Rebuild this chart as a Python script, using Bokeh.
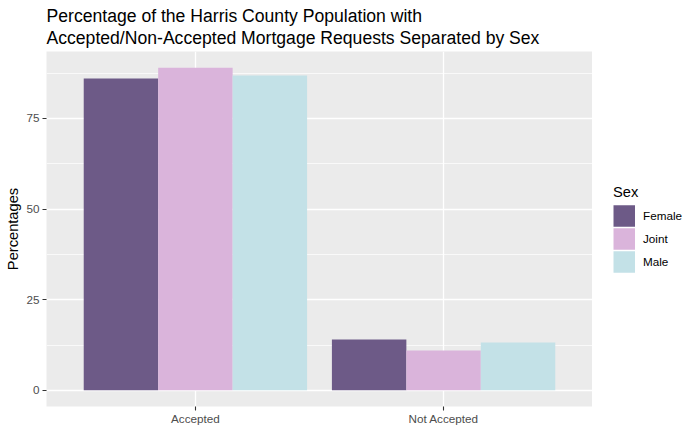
from bokeh.plotting import figure
from bokeh.layouts import row
from bokeh.models import (FactorRange, Range1d, FixedTicker, Legend, LegendItem,
                          ColumnDataSource)
from bokeh.transform import dodge
from bokeh.embed import file_html
from bokeh.resources import INLINE

categories = ["Accepted", "Not Accepted"]
sexes = ["Female", "Joint", "Male"]
female = [86.0, 14.0]
joint = [89.0, 11.0]
male = [86.8, 13.2]
colors = ["#6D5A87", "#DAB4DB", "#C3E1E7"]
y_ticks = [0, 25, 50, 75]
y_minor = [12.5, 37.5, 62.5, 87.5]

title1 = "Percentage of the Harris County Population with"
title2 = "Accepted/Non-Accepted Mortgage Requests Separated by Sex"

FONT = "Liberation Sans"

source = ColumnDataSource(dict(cat=categories, Female=female, Joint=joint, Male=male))

ymax = max(female + joint + male)
pad = ymax * 0.05

p = figure(width=592, height=432, output_backend="svg", toolbar_location=None,
           x_range=FactorRange(factors=categories, range_padding=0.1),
           y_range=Range1d(-pad, ymax + pad),
           min_border_left=46, min_border_right=0, min_border_top=51,
           min_border_bottom=26)

p.background_fill_color = "#EBEBEB"
p.border_fill_color = "white"
p.outline_line_color = None

offsets = [-0.3, 0.0, 0.3]
for s, off, c in zip(sexes, offsets, colors):
    p.vbar(x=dodge("cat", off, range=p.x_range), top=s, bottom=0, width=0.3,
           source=source, fill_color=c, line_color=None)

# axes styling
for ax in (p.xaxis, p.yaxis):
    ax.axis_line_color = None
    ax.major_tick_line_color = "#333333"
    ax.major_tick_line_width = 1.1
    ax.major_tick_out = 4
    ax.major_tick_in = 0
    ax.minor_tick_line_color = None
    ax.major_label_text_font = FONT
    ax.major_label_text_font_size = "11.7px"
    ax.major_label_text_color = "#4D4D4D"
    ax.major_label_standoff = 3
p.xaxis.major_label_standoff = 1

p.yaxis.ticker = FixedTicker(ticks=y_ticks, minor_ticks=y_minor)
p.yaxis.axis_label = "Percentages"
p.yaxis.axis_label_text_font = FONT
p.yaxis.axis_label_text_font_size = "14.67px"
p.yaxis.axis_label_text_font_style = "normal"
p.yaxis.axis_label_text_color = "black"
p.yaxis.axis_label_standoff = 2

p.xgrid.grid_line_color = "white"
p.xgrid.grid_line_width = 1.3
p.ygrid.grid_line_color = "white"
p.ygrid.grid_line_width = 1.3
p.ygrid.minor_grid_line_color = "white"
p.ygrid.minor_grid_line_width = 0.7

# two-line title, left-aligned with the panel
p.title.text = title1 + "\n" + title2
p.title.align = "left"
p.title.text_font = FONT
p.title.text_font_size = "17.6px"
p.title.text_font_style = "normal"
p.title.text_color = "black"
p.title.text_line_height = 1.1
p.title.standoff = 7

# legend panel on the right
lg = figure(width=108, height=432, output_backend="svg", toolbar_location=None,
            x_range=Range1d(0, 1), y_range=Range1d(0, 1),
            x_axis_type=None, y_axis_type=None,
            min_border_left=0, min_border_right=0, min_border_top=0,
            min_border_bottom=0)
lg.outline_line_color = None
lg.background_fill_color = "white"
lg.border_fill_color = "white"
lg.xgrid.visible = False
lg.ygrid.visible = False

items = []
for s, c in zip(sexes, colors):
    r = lg.line(x=[0.5], y=[0.5], line_color=c, line_width=21.5, line_cap="butt")
    items.append(LegendItem(label=s, renderers=[r]))

legend = Legend(items=items, title="Sex", location=(21, 133),
                margin=0, padding=0, spacing=0,
                glyph_width=22, glyph_height=23, label_height=23,
                label_standoff=8,
                label_text_font=FONT, label_text_font_size="11.7px",
                label_text_color="black",
                title_text_font=FONT, title_text_font_size="14.67px",
                title_text_font_style="normal", title_text_color="black",
                title_standoff=4,
                border_line_color=None, background_fill_alpha=0)
lg.add_layout(legend)

layout = row(p, lg)
open("out.html", "w").write(file_html(layout, INLINE))
